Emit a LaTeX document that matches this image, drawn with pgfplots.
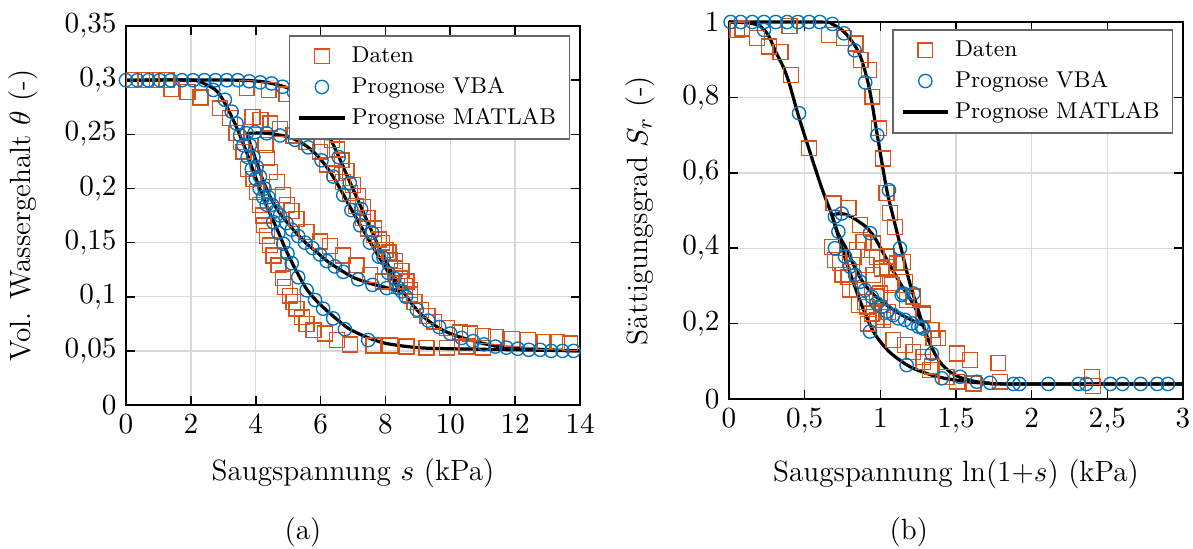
\documentclass[border=0pt]{standalone}
\usepackage{pgfplots}
\pgfplotsset{compat=1.18}
\definecolor{morange}{RGB}{217,83,25}
\definecolor{mblue}{RGB}{0,114,189}
\pgfplotsset{
  myaxis/.style={
    scale only axis, width=170.5pt, clip=false,
    axis line style={line width=0.6pt},
    tick style={black, line width=0.6pt},
    major tick length=3.5pt, tick align=inside,
    grid=major, major grid style={gray!30, line width=0.5pt},
    /pgf/number format/use comma,
    yticklabel style={/pgf/number format/fixed},
    tick label style={font=\fontsize{11}{13}\selectfont},
    label style={font=\fontsize{11}{13}\selectfont},
    ylabel style={at={(axis description cs:0,0.5)}, anchor=center},
    xlabel style={at={(axis description cs:0.5,0)}, anchor=center},
    legend cell align=left,
    legend style={draw=black!60, fill=white, line width=0.5pt, font=\fontsize{8.6}{10}\selectfont},
  },
  sq/.style={only marks, mark=square, mark size=2.8pt, mark options={draw=morange, line width=0.5pt, solid}},
  ci/.style={only marks, mark=o, mark size=2.5pt, mark options={draw=mblue, line width=0.5pt, solid}},
  ml/.style={black, line width=1.2pt, no marks, smooth},
}
\begin{document}
\begin{tikzpicture}
\useasboundingbox (0,0) rectangle (448pt,205.8pt);
% ---------------- (a) ----------------
\begin{axis}[myaxis, at={(47.31pt,53.7pt)}, anchor=south west, height=142.3pt,
  xmin=0, xmax=14, ymin=0, ymax=0.35,
  xtick={0,2,4,6,8,10,12,14}, ytick={0,0.05,0.1,0.15,0.2,0.25,0.3,0.35},
  xlabel={Saugspannung $s$ (kPa)}, ylabel={Vol. Wassergehalt $\theta$ (-)},
  xlabel style={yshift=-25.5pt}, ylabel style={yshift=38.7pt},
  legend style={at={(0.978,0.976)}, anchor=north east}]
\addplot[sq] coordinates {
(0.25,0.3)(0.6,0.3)(0.95,0.3)(1.25,0.3)(1.4,0.292)(1.9,0.289)(2.3,0.284)(2.9,0.274)(3.2,0.265)(3.41,0.251)(3.55,0.243)(3.62,0.234)(3.77,0.218)(3.93,0.209)(4.03,0.197)(4.13,0.185)(4.23,0.175)(4.25,0.166)(4.34,0.156)(4.44,0.1475)(4.55,0.138)(4.7,0.129)(4.85,0.117)(4.9,0.109)(5.06,0.101)(5.16,0.095)(5.26,0.089)(5.42,0.081)(5.57,0.075)(5.78,0.069)(6.14,0.066)(6.5,0.06)(6.9,0.056)(7.63,0.055)(8.14,0.055)(8.65,0.054)(9.27,0.053)(9.89,0.053)(10.5,0.054)(11.0,0.053)
(3.72,0.293)(4.4,0.291)(4.95,0.287)(5.45,0.281)(5.85,0.27)
(6.2,0.252)(6.35,0.245)(6.5,0.236)(6.65,0.226)(6.8,0.216)(7.0,0.203)(7.15,0.193)(7.3,0.183)(7.45,0.173)(7.65,0.163)(7.8,0.153)(8.0,0.143)(8.15,0.134)(8.3,0.126)(8.45,0.117)(8.6,0.11)(8.75,0.102)(8.9,0.095)(9.1,0.088)(9.3,0.082)(9.5,0.077)(9.9,0.071)(10.3,0.067)(10.6,0.066)(11.0,0.064)(11.4,0.063)(11.9,0.061)(12.4,0.06)(12.9,0.058)(13.3,0.058)(13.7,0.057)
(3.9,0.266)(4.15,0.263)(4.45,0.26)(4.75,0.255)(5.16,0.249)(5.57,0.243)(5.98,0.234)(6.19,0.222)(6.45,0.214)(6.7,0.206)(6.9,0.196)(7.1,0.184)(7.3,0.173)(7.47,0.163)(7.65,0.157)(7.9,0.15)(8.1,0.141)(8.3,0.133)(8.5,0.124)(8.65,0.114)(8.75,0.106)
(8.35,0.11)(7.93,0.114)(7.52,0.12)(7.11,0.129)(6.7,0.138)(6.29,0.147)(5.98,0.151)(5.57,0.16)(5.26,0.172)(5.1,0.179)(4.96,0.185)(4.85,0.194)(4.65,0.206)(4.44,0.215)(4.34,0.228)(4.3,0.24)
};
\addlegendentry{Daten}
\addplot[ci] coordinates {
(0,0.3)(0.35,0.3)(0.69,0.3)(1.04,0.3)(1.38,0.3)(1.73,0.3)(2.07,0.3)(2.42,0.3)(2.76,0.3)(3.11,0.3)(3.45,0.3)(3.8,0.299)(4.14,0.298)(4.49,0.297)(4.83,0.294)(5.18,0.289)(5.52,0.281)(5.87,0.268)(6.21,0.251)(6.56,0.229)(6.9,0.205)(7.25,0.181)(7.59,0.159)(7.94,0.136)(8.28,0.117)(8.63,0.1)(8.97,0.088)(9.32,0.078)(9.66,0.072)(10.0,0.066)(10.35,0.062)(10.7,0.059)(11.04,0.056)(11.39,0.054)(11.73,0.053)(12.08,0.052)(12.42,0.051)(12.77,0.051)(13.11,0.05)(13.46,0.05)(13.8,0.05)
(2.69,0.291)(3.05,0.282)(3.26,0.271)(3.41,0.26)(3.52,0.249)(3.62,0.24)(3.75,0.229)(3.88,0.218)(4.0,0.209)(4.12,0.2)(4.23,0.192)(4.34,0.185)(4.54,0.169)(4.7,0.159)(4.85,0.149)(4.98,0.14)(5.11,0.131)(5.31,0.118)(5.57,0.106)(5.83,0.097)(6.08,0.089)(6.39,0.08)(6.75,0.07)(7.47,0.06)
(3.72,0.251)(3.82,0.24)(3.93,0.229)(4.03,0.22)(4.13,0.211)(4.27,0.2)(4.39,0.192)(4.5,0.185)(4.62,0.179)(4.75,0.175)(4.95,0.168)(5.11,0.162)(5.31,0.156)(5.52,0.15)(5.75,0.145)(5.98,0.139)(6.19,0.133)(6.44,0.128)(6.7,0.123)(7.16,0.116)(7.6,0.111)(8.04,0.108)(8.5,0.105)
(3.98,0.252)(4.34,0.251)(4.75,0.249)(5.21,0.245)(5.62,0.238)(6.03,0.226)(6.39,0.211)(6.7,0.194)(6.95,0.18)(7.22,0.166)(7.52,0.15)(7.8,0.137)(8.09,0.122)(8.4,0.108)
};
\addlegendentry{Prognose VBA}
\addplot[ml] coordinates {(0,0.3)(3.5,0.3)(4.5,0.297)(5.2,0.29)(5.6,0.278)(6.0,0.262)(6.4,0.24)(6.8,0.213)(7.2,0.186)(7.6,0.159)(8.0,0.134)(8.4,0.112)(8.8,0.094)(9.2,0.081)(9.6,0.072)(10,0.066)(10.5,0.061)(11,0.057)(11.5,0.054)(12,0.053)(13,0.051)(14,0.05)};
\addlegendentry{Prognose MATLAB}
\addplot[ml, forget plot] coordinates {(0,0.3)(2,0.3)(2.4,0.297)(2.8,0.29)(3.1,0.276)(3.4,0.257)(3.7,0.235)(4.0,0.21)(4.35,0.183)(4.65,0.163)(4.95,0.142)(5.25,0.124)(5.55,0.108)(5.85,0.097)(6.2,0.087)(6.55,0.078)(6.9,0.07)(7.4,0.063)(8,0.057)(9,0.053)(10,0.052)(12,0.051)(14,0.05)};
\addplot[ml, forget plot] coordinates {(3.72,0.251)(4.34,0.251)(4.96,0.248)(5.37,0.243)(5.7,0.236)(6.0,0.227)(6.3,0.215)(6.6,0.2)(7.0,0.178)(7.5,0.152)(8.0,0.127)(8.45,0.105)};
\addplot[ml, forget plot] coordinates {(3.72,0.251)(3.95,0.231)(4.23,0.207)(4.5,0.189)(4.75,0.177)(5.1,0.164)(5.5,0.151)(5.85,0.142)(6.2,0.133)(6.6,0.125)(7.0,0.118)(7.45,0.113)(7.95,0.109)(8.45,0.105)};
\end{axis}
% ---------------- (b) ----------------
\begin{axis}[myaxis, at={(273.75pt,55.95pt)}, anchor=south west, height=141.57pt,
  xmin=0, xmax=3, ymin=0, ymax=1,
  xtick={0,0.5,1,1.5,2,2.5,3}, ytick={0,0.2,0.4,0.6,0.8,1},
  xlabel={Saugspannung ln(1+$s$) (kPa)}, ylabel={Sättigungsgrad $S_r$ (-)},
  xlabel style={yshift=-28.1pt}, ylabel style={yshift=33.4pt},
  legend style={at={(0.979,0.981)}, anchor=north east}]
\addplot[sq] coordinates {
(0.055,0.979)(0.088,0.983)(0.187,0.957)(0.264,0.935)(0.34,0.921)(0.40,0.99)(0.408,0.859)(0.529,0.665)
(0.66,0.966)(0.76,0.957)(0.837,0.943)(0.87,0.899)(0.925,0.873)(0.947,0.802)(0.99,0.718)(1.018,0.638)(1.04,0.546)(1.064,0.493)(1.097,0.457)(1.152,0.364)(1.163,0.311)(1.284,0.223)(1.339,0.183)(1.383,0.161)(1.505,0.121)(1.593,0.103)(1.78,0.095)(2.397,0.059)(2.404,0.035)(1.505,0.046)(1.615,0.041)(1.79,0.046)
(0.69,0.519)(0.789,0.506)(0.866,0.462)(0.679,0.404)(0.70,0.369)(0.733,0.361)(0.789,0.324)(0.844,0.395)(0.822,0.377)(0.888,0.417)(0.954,0.413)(0.91,0.355)(0.954,0.329)(0.844,0.289)(0.899,0.258)(0.998,0.28)(0.943,0.227)(1.02,0.218)(1.042,0.378)(1.009,0.346)(1.064,0.307)(1.075,0.302)(0.976,0.377)(1.042,0.351)(1.108,0.36)(0.976,0.272)(1.053,0.231)(1.02,0.209)(0.91,0.245)(0.976,0.209)(1.174,0.263)(1.218,0.272)(1.086,0.156)(1.163,0.143)(1.218,0.125)(1.284,0.112)(1.339,0.086)(1.328,0.077)(1.284,0.099)(1.438,0.059)(1.35,0.161)(1.284,0.227)(0.75,0.33)(0.8,0.29)(0.86,0.25)(0.92,0.2)
};
\addlegendentry{Daten}
\addplot[ci] coordinates {
(0.011,1)(0.077,1)(0.154,1)(0.231,1)(0.309,1)(0.385,1)(0.456,1)(0.529,1)(0.6,1)(0.683,0.995)
(0.76,0.97)(0.83,0.925)(0.90,0.84)(0.98,0.70)(1.057,0.554)(1.13,0.40)(1.218,0.28)(1.152,0.28)(1.273,0.192)(1.34,0.12)(1.406,0.055)(1.527,0.059)(1.637,0.046)(1.725,0.043)(1.88,0.04)(1.92,0.04)(2.11,0.04)(2.31,0.04)(2.36,0.04)(2.52,0.04)(2.6,0.04)(2.72,0.04)(2.83,0.04)(2.9,0.04)
(0.231,0.979)(0.463,0.758)(0.70,0.484)(0.745,0.492)(0.723,0.444)(0.70,0.40)(0.932,0.179)(1.174,0.09)
(0.767,0.378)(0.80,0.351)(0.833,0.329)(0.866,0.311)(0.899,0.289)(0.943,0.271)(0.976,0.254)(1.009,0.245)(1.042,0.232)(1.086,0.223)(1.119,0.214)(1.163,0.21)(1.207,0.201)(1.251,0.192)(1.284,0.187)
(0.932,0.44)(1.141,0.276)
};
\addlegendentry{Prognose VBA}
\addplot[ml] coordinates {(0,1)(0.6,1)(0.68,0.995)(0.77,0.97)(0.86,0.917)(0.925,0.828)(0.98,0.70)(1.04,0.56)(1.09,0.475)(1.14,0.395)(1.2,0.3)(1.284,0.195)(1.33,0.145)(1.39,0.1)(1.46,0.072)(1.53,0.057)(1.62,0.047)(1.72,0.042)(1.85,0.04)(3,0.04)};
\addlegendentry{Prognose MATLAB}
\addplot[ml, forget plot] coordinates {(0,1)(0.12,0.998)(0.2,0.99)(0.26,0.965)(0.31,0.92)(0.36,0.88)(0.4,0.835)(0.46,0.75)(0.535,0.655)(0.6,0.575)(0.64,0.53)(0.68,0.488)(0.72,0.435)(0.77,0.37)(0.83,0.3)(0.89,0.236)(0.96,0.175)(1.06,0.125)(1.2,0.085)(1.37,0.06)(1.55,0.047)(1.7,0.042)(1.9,0.04)(3,0.04)};
\addplot[ml, forget plot] coordinates {(0.68,0.488)(0.74,0.492)(0.8,0.485)(0.86,0.47)(0.91,0.455)(0.96,0.43)(1.0,0.402)(1.05,0.365)(1.11,0.322)(1.17,0.282)(1.22,0.25)(1.284,0.195)};
\addplot[ml, forget plot] coordinates {(0.68,0.488)(0.72,0.44)(0.78,0.395)(0.83,0.35)(0.89,0.307)(0.95,0.28)(1.01,0.258)(1.064,0.243)(1.12,0.228)(1.18,0.215)(1.23,0.205)(1.284,0.195)};
\end{axis}
\node[font=\fontsize{11}{13}\selectfont] at (113.8pt,6.0pt) {(a)};
\node[font=\fontsize{11}{13}\selectfont] at (341.3pt,6.0pt) {(b)};
\end{tikzpicture}
\end{document}
